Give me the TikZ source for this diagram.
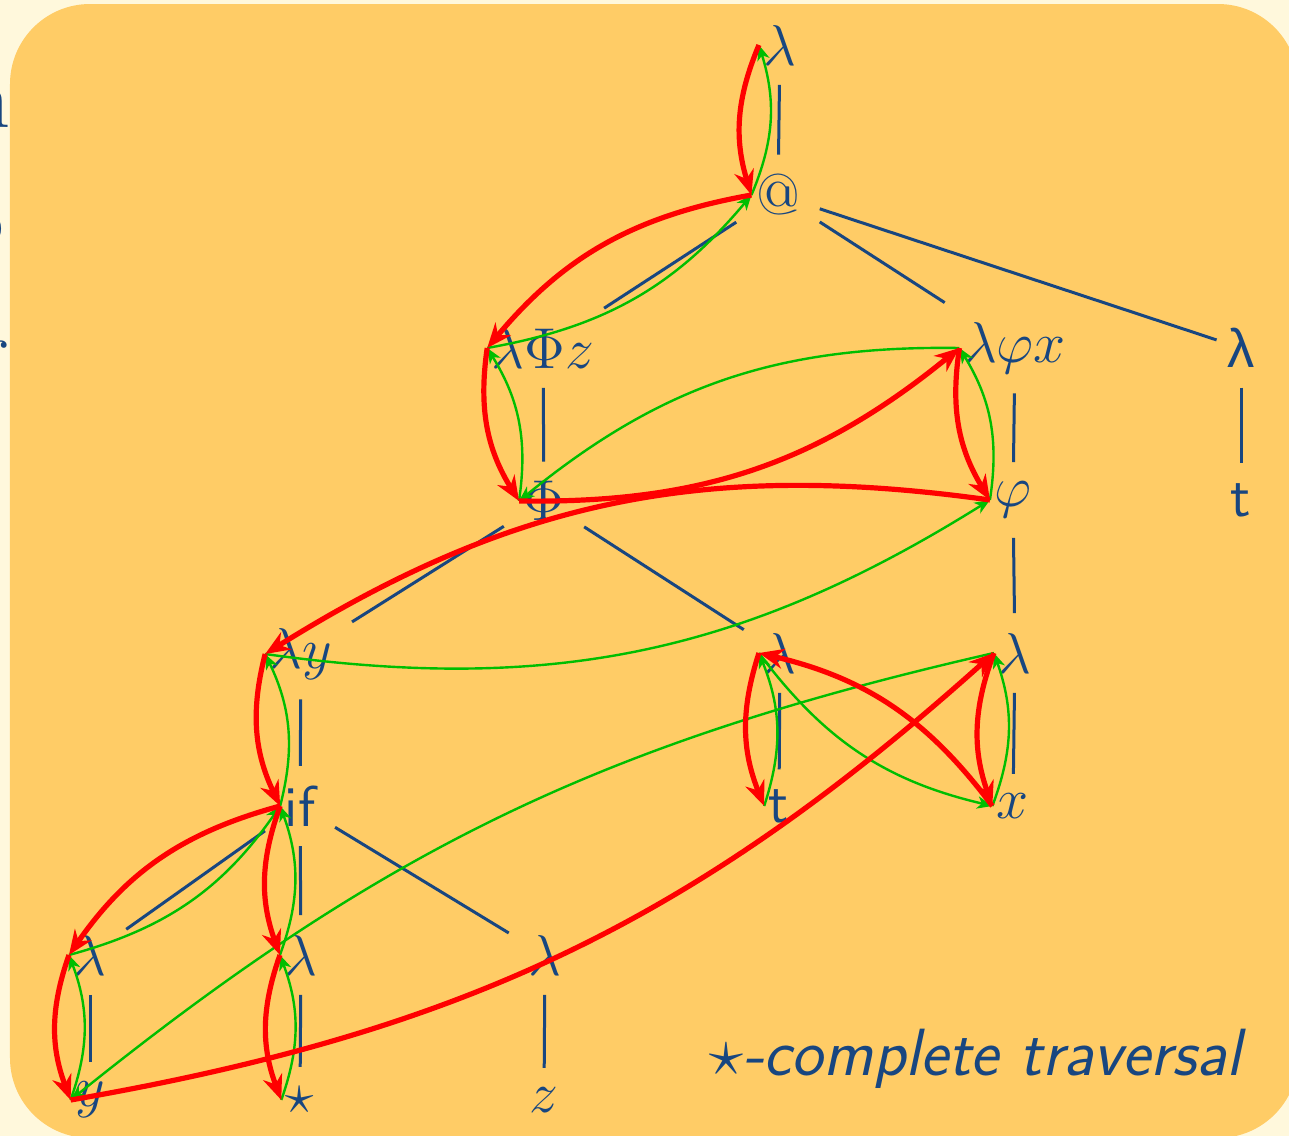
\documentclass[tikz,border=0pt]{standalone}
\usepackage[no-math]{fontspec}
\newfontfamily\grsans{Liberation Sans}
\usetikzlibrary{arrows.meta}
\definecolor{bgcream}{RGB}{255,248,220}
\definecolor{boxorange}{RGB}{255,204,102}
\definecolor{inkblue}{RGB}{24,70,128}
\definecolor{trred}{RGB}{255,0,0}
\definecolor{ptgreen}{RGB}{0,190,0}
\tikzset{
  tn/.style={text=inkblue, font=\fontsize{14.4}{17}\selectfont, inner sep=4.75pt},
  tedge/.style={draw=inkblue, line width=0.75pt},
  redar/.style={draw=trred, line width=1.3pt, -{Stealth[length=6.2pt,width=5pt,inset=2pt]}},
  grnar/.style={draw=ptgreen, line width=0.6pt, -{Stealth[length=3.8pt,width=3.1pt,inset=1.1pt]}},
  frag/.style={text=inkblue, font=\fontsize{21.5}{24}\selectfont, anchor=base east, inner sep=0pt}
}
\newcommand{\trarrow}[3][20]{\draw[redar] ([xshift=3.8pt]#2.west) to[bend right=#1] ([xshift=3.8pt]#3.west);}
\newcommand{\jparrow}[3][20]{\draw[grnar] ([xshift=3.8pt]#2.west) to[bend right=#1] ([xshift=3.8pt]#3.west);}
\begin{document}
\begin{tikzpicture}[x=0.25pt,y=-0.25pt]
\useasboundingbox (0,0) rectangle (1289,1136);
\clip (0,0) rectangle (1289,1136);
\fill[bgcream] (0,0) rectangle (1289,1136);
% fragments of text behind the box
\node[frag] (fa) at (11,127) {n};
\node[frag] (fb) at (5,247) {o};
\node[frag] (fc) at (10,378) {r};
\fill[boxorange, rounded corners=20pt] (10,4) rectangle (1298,1138);
% nodes
\node[tn] (l0) at (780,45) {$\lambda$};
\node[tn] (app) at (778,195) {@};
\node[tn] (lPz) at (543,348) {$\lambda\Phi z$};
\node[tn] (lpx) at (1015,348) {$\lambda\varphi x$};
\node[tn, font=\grsans\fontsize{13.6}{16}\selectfont, inner xsep=2.5pt] (lr) at (1241,348) {λ};
\node[tn] (Phi) at (544,501) {$\Phi$};
\node[tn] (phi) at (1013,500) {$\varphi$};
\node[tn, font=\fontsize{14.4}{17}\selectfont\sffamily] (tr) at (1241,500) {t};
\node[tn] (ly) at (301,654) {$\lambda y$};
\node[tn] (lm) at (780,653) {$\lambda$};
\node[tn] (lx) at (1015,653) {$\lambda$};
\node[tn, font=\fontsize{14.4}{17}\selectfont\sffamily] (if) at (300,806) {if};
\node[tn, font=\fontsize{14.4}{17}\selectfont\sffamily] (tm) at (779,806) {t};
\node[tn] (x) at (1013,806) {$x$};
\node[tn] (ll) at (90,955) {$\lambda$};
\node[tn] (lc) at (301,955) {$\lambda$};
\node[tn] (lb) at (545,955) {$\lambda$};
\node[tn] (y) at (90,1100) {$y$};
\node[tn] (st) at (300,1100) {$\star$};
\node[tn] (z) at (544,1100) {$z$};
% tree edges
\draw[tedge] (l0) -- (app);
\draw[tedge] (app) -- (lPz);
\draw[tedge] (app) -- (lpx);
\draw[tedge] (app) -- (lr);
\draw[tedge] (lPz) -- (Phi);
\draw[tedge] (lpx) -- (phi);
\draw[tedge] (lr) -- (tr);
\draw[tedge] (Phi) -- (ly);
\draw[tedge] (Phi) -- (lm);
\draw[tedge] (phi) -- (lx);
\draw[tedge] (ly) -- (if);
\draw[tedge] (lm) -- (tm);
\draw[tedge] (lx) -- (x);
\draw[tedge] (if) -- (ll);
\draw[tedge] (if) -- (lc);
\draw[tedge] (if) -- (lb);
\draw[tedge] (ll) -- (y);
\draw[tedge] (lc) -- (st);
\draw[tedge] (lb) -- (z);
% justification pointers
\jparrow{app}{l0}
\jparrow{lPz}{app}
\jparrow{Phi}{lPz}
\jparrow{lpx}{Phi}
\jparrow{phi}{lpx}
\jparrow{ly}{phi}
\jparrow{if}{ly}
\jparrow{ll}{if}
\jparrow{y}{ll}
\jparrow[13]{lx}{y}
\jparrow{x}{lx}
\jparrow{lm}{x}
\jparrow{tm}{lm}
\jparrow{lc}{if}
\jparrow{st}{lc}
% traversal
\trarrow{l0}{app}
\trarrow{app}{lPz}
\trarrow{lPz}{Phi}
\trarrow{Phi}{lpx}
\trarrow{lpx}{phi}
\trarrow{phi}{ly}
\trarrow{ly}{if}
\trarrow{if}{ll}
\trarrow{ll}{y}
\trarrow[16]{y}{lx}
\trarrow{lx}{x}
\trarrow{x}{lm}
\trarrow{lm}{tm}
\trarrow{if}{lc}
\trarrow{lc}{st}
% caption
\node[anchor=base east, text=inkblue, inner sep=0pt, font=\fontsize{16.7}{19}\selectfont\sffamily\itshape] (cap) at (1242,1075) {$\star$-complete traversal};
\end{tikzpicture}
\end{document}
